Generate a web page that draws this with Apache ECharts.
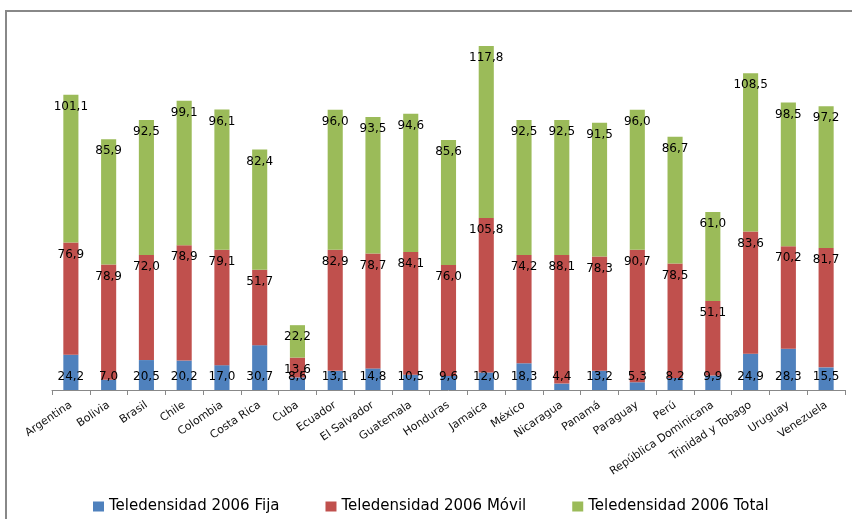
<!DOCTYPE html>
<html>
<head>
<meta charset="utf-8">
<script src="https://cdn.jsdelivr.net/npm/echarts@6/dist/echarts.min.js"></script>
<style>
  html, body { margin: 0; padding: 0; background: #fff; }
  #chart { width: 852px; height: 519px; }
</style>
</head>
<body>
<div id="chart"></div>
<script>
// datos de teledensidad 2006 por país
var paises = ["Argentina", "Bolivia", "Brasil", "Chile", "Colombia", "Costa Rica", "Cuba",
  "Ecuador", "El Salvador", "Guatemala", "Honduras", "Jamaica", "México", "Nicaragua",
  "Panamá", "Paraguay", "Perú", "República Dominicana", "Trinidad y Tobago", "Uruguay", "Venezuela"];
var fija = [24.2, 7.0, 20.5, 20.2, 17.0, 30.7, 8.6, 13.1, 14.8, 10.5, 9.6, 12.0, 18.3, 4.4,
  13.2, 5.3, 8.2, 9.9, 24.9, 28.3, 15.5];
var movil = [76.9, 78.9, 72.0, 78.9, 79.1, 51.7, 13.6, 82.9, 78.7, 84.1, 76.0, 105.8, 74.2, 88.1,
  78.3, 90.7, 78.5, 51.1, 83.6, 70.2, 81.7];
var total = [101.1, 85.9, 92.5, 99.1, 96.1, 82.4, 22.2, 96.0, 93.5, 94.6, 85.6, 117.8, 92.5, 92.5,
  91.5, 96.0, 86.7, 61.0, 108.5, 98.5, 97.2];

var fuente = "DejaVu Sans";

function coma(p) {
  return p.value.toFixed(1).replace(".", ",");
}

function serie(nombre, datos, color, pos) {
  return {
    name: nombre,
    type: "bar",
    stack: "tele",
    barWidth: "40%",
    data: datos,
    itemStyle: { color: color },
    label: {
      show: true,
      position: pos,
      distance: pos === "insideBottom" ? 7 : 6,
      formatter: coma,
      color: "#000",
      fontFamily: fuente,
      fontSize: 12
    }
  };
}

var myChart = echarts.init(document.getElementById("chart"));
var option = {
  animation: false,
  backgroundColor: "#fff",
  graphic: [{
    type: "rect",
    shape: { x: 6, y: 11, width: 900, height: 600 },
    style: { fill: "none", stroke: "#888", lineWidth: 2 }
  }],
  grid: { left: 52, right: 7, top: 25, bottom: 129 },
  legend: {
    left: 88,
    top: 494,
    itemWidth: 11,
    itemHeight: 10,
    itemGap: 46,
    icon: "rect",
    textStyle: { fontFamily: fuente, fontSize: 15, color: "#000" },
    data: ["Teledensidad 2006 Fija", "Teledensidad 2006 Móvil", "Teledensidad 2006 Total"]
  },
  xAxis: {
    type: "category",
    data: paises,
    axisLine: { lineStyle: { color: "#888" } },
    axisTick: { show: true, length: 5, lineStyle: { color: "#888" } },
    axisLabel: {
      interval: 0,
      rotate: 34,
      margin: 14,
      color: "#111",
      fontFamily: fuente,
      fontSize: 11
    }
  },
  yAxis: {
    type: "value",
    min: 0,
    max: 250,
    show: false
  },
  series: [
    serie("Teledensidad 2006 Fija", fija, "#4F81BD", "insideBottom"),
    serie("Teledensidad 2006 Móvil", movil, "#C0504D", "insideTop"),
    serie("Teledensidad 2006 Total", total, "#9BBB59", "insideTop")
  ]
};
myChart.setOption(option);
</script>
</body>
</html>
